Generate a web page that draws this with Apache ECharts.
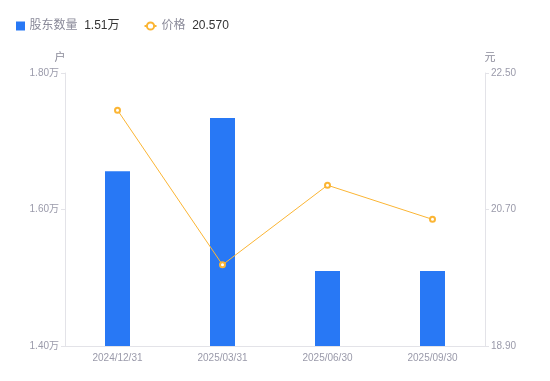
<!DOCTYPE html>
<html><head><meta charset="utf-8">
<script src="https://cdn.jsdelivr.net/npm/echarts@6/dist/echarts.min.js"></script>
<style>html,body{margin:0;padding:0;background:#fff}#c{width:550px;height:381px}</style>
</head><body><div id="c"></div>
<script>
const categories = ['2024/12/31', '2025/03/31', '2025/06/30', '2025/09/30'];
const holders = [16560, 17340, 15100, 15100];
const prices = [22.01, 19.97, 21.02, 20.57];
const leftTicks = [14000, 18000, 2000];
const rightTicks = [18.9, 22.5, 1.8];

const chart = echarts.init(document.getElementById('c'));
const lastH = (holders[holders.length - 1] / 10000).toFixed(2) + '万';
const lastP = prices[prices.length - 1].toFixed(3);
const font = '"Liberation Sans", Arial, "Noto Sans CJK SC", sans-serif';
chart.setOption({
  animation: false,
  textStyle: { fontFamily: font },
  legend: {
    left: 11, top: 15, itemGap: 24,
    itemWidth: 12, itemHeight: 9,
    data: [
      { name: '股东数量', icon: 'path://M0,0h10v10h-10z', textStyle: { padding: [0, 0, 0, -2] } },
      { name: '价格' }
    ],
    formatter: function (n) {
      return '{n|' + n + '}  {v|' + (n === '股东数量' ? lastH : lastP) + '}';
    },
    textStyle: {
      rich: {
        n: { color: '#8a8a99', fontSize: 12, fontFamily: font },
        v: { color: '#333', fontSize: 12, fontFamily: font }
      }
    }
  },
  grid: { left: 65, right: 65, top: 73, bottom: 35 },
  xAxis: {
    type: 'category', data: categories,
    axisLine: { lineStyle: { color: '#e3e3e8' } },
    axisTick: { show: false },
    axisLabel: { color: '#9a9aaa', fontSize: 10, margin: 7 }
  },
  yAxis: [
    {
      type: 'value', name: '户', min: leftTicks[0], max: leftTicks[1], interval: leftTicks[2],
      nameTextStyle: { color: '#8a8a99', fontSize: 11, padding: [0, 10, 0, 0] },
      nameGap: 10,
      axisLine: { show: true, lineStyle: { color: '#e3e3e8' } },
      axisTick: { show: true, length: 4, lineStyle: { color: '#e3e3e8' } },
      splitLine: { show: false },
      axisLabel: { color: '#9a9aaa', fontSize: 10, margin: 6,
        formatter: v => (v / 10000).toFixed(2) + '万' }
    },
    {
      type: 'value', name: '元', min: rightTicks[0], max: rightTicks[1], interval: rightTicks[2],
      nameTextStyle: { color: '#8a8a99', fontSize: 11, padding: [0, 0, 0, 10] },
      nameGap: 10,
      axisLine: { show: true, lineStyle: { color: '#e3e3e8' } },
      axisTick: { show: true, length: 4, lineStyle: { color: '#e3e3e8' } },
      splitLine: { show: false },
      axisLabel: { color: '#9a9aaa', fontSize: 10, margin: 6,
        formatter: v => v.toFixed(2) }
    }
  ],
  series: [
    {
      name: '股东数量', type: 'bar', data: holders, barWidth: 25,
      itemStyle: { color: '#2878f5' }
    },
    {
      name: '价格', type: 'line', yAxisIndex: 1, data: prices,
      symbol: 'emptyCircle', symbolSize: 5,
      lineStyle: { color: '#fbb534', width: 1 },
      itemStyle: { color: '#fbb534', borderWidth: 1.5 }
    }
  ]
});
</script></body></html>
